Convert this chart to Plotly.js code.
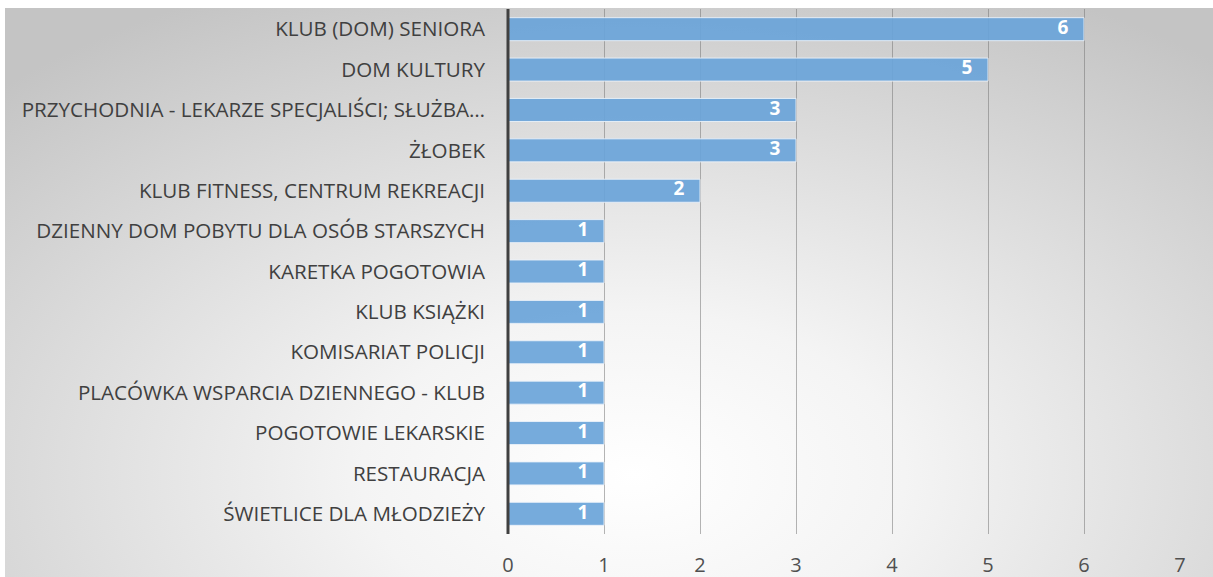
<!DOCTYPE html>
<html>
<head>
<meta charset="utf-8">
<script src="https://cdn.plot.ly/plotly-3.0.1.min.js"></script>
<style>
  html, body { margin: 0; padding: 0; background: #ffffff; }
  #wrap { position: absolute; left: 5px; top: 8px; width: 1208px; height: 569px;
    background: radial-gradient(ellipse 75% 95% at 52% 82%, #ffffff 0%, #f4f4f4 30%, #dcdcdc 65%, #c4c4c4 100%); }
  #chart { position: absolute; left: 0; top: 0; width: 1213px; height: 577px; }
</style>
</head>
<body>
<div id="wrap"></div>
<div id="chart"></div>
<script>
const categories = [
  "KLUB (DOM) SENIORA",
  "DOM KULTURY",
  "PRZYCHODNIA - LEKARZE SPECJALIŚCI; SŁUŻBA…",
  "ŻŁOBEK",
  "KLUB FITNESS, CENTRUM REKREACJI",
  "DZIENNY DOM POBYTU DLA OSÓB STARSZYCH",
  "KARETKA POGOTOWIA",
  "KLUB KSIĄŻKI",
  "KOMISARIAT POLICJI",
  "PLACÓWKA WSPARCIA DZIENNEGO - KLUB",
  "POGOTOWIE LEKARSKIE",
  "RESTAURACJA",
  "ŚWIETLICE DLA MŁODZIEŻY"
];
const values = [6, 5, 3, 3, 2, 1, 1, 1, 1, 1, 1, 1, 1];
const xTicks = [0, 1, 2, 3, 4, 5, 6, 7];

const FONT = "'Open Sans', Lato, sans-serif";

const bars = {
  type: "bar",
  orientation: "h",
  x: values,
  y: categories,
  width: 0.57,
  marker: { color: "rgba(106,164,217,0.92)", line: { color: "rgba(235,242,250,0.9)", width: 1 } },
  hoverinfo: "x+y",
  showlegend: false
};

const labels = {
  type: "scatter",
  mode: "text",
  x: values.map(v => v - 0.22),
  y: categories,
  text: values.map(String),
  textposition: "middle center",
  textfont: { family: FONT, size: 19, color: "#ffffff", weight: 700 },
  hoverinfo: "skip",
  showlegend: false,
  cliponaxis: false
};

const layout = {
  width: 1213,
  height: 577,
  paper_bgcolor: "rgba(0,0,0,0)",
  plot_bgcolor: "rgba(0,0,0,0)",
  margin: { l: 508, r: 33, t: 9, b: 43 },
  font: { family: FONT, color: "#404040" },
  xaxis: {
    range: [0, 7],
    automargin: false,
    tickvals: xTicks,
    ticktext: xTicks.map(String),
    showgrid: true,
    gridcolor: "rgba(120,120,120,0.55)",
    gridwidth: 1,
    zeroline: false,
    showline: false,
    ticks: "",
    tickfont: { family: FONT, size: 20, color: "#505050" },
    ticklabelstandoff: 17,
    fixedrange: true
  },
  yaxis: {
    range: [12.5, -0.5],
    automargin: false,
    showgrid: false,
    zeroline: false,
    showline: false,
    ticks: "",
    tickfont: { family: FONT, size: 20.6, color: "#404040" },
    ticklabelstandoff: 22,
    fixedrange: true
  },
  shapes: [{
    type: "line", xref: "paper", yref: "paper",
    x0: 0, x1: 0, y0: 0, y1: 1,
    line: { color: "#404040", width: 3 }
  }]
};

Plotly.newPlot("chart", [bars, labels], layout, { displayModeBar: false });
</script>
</body>
</html>
